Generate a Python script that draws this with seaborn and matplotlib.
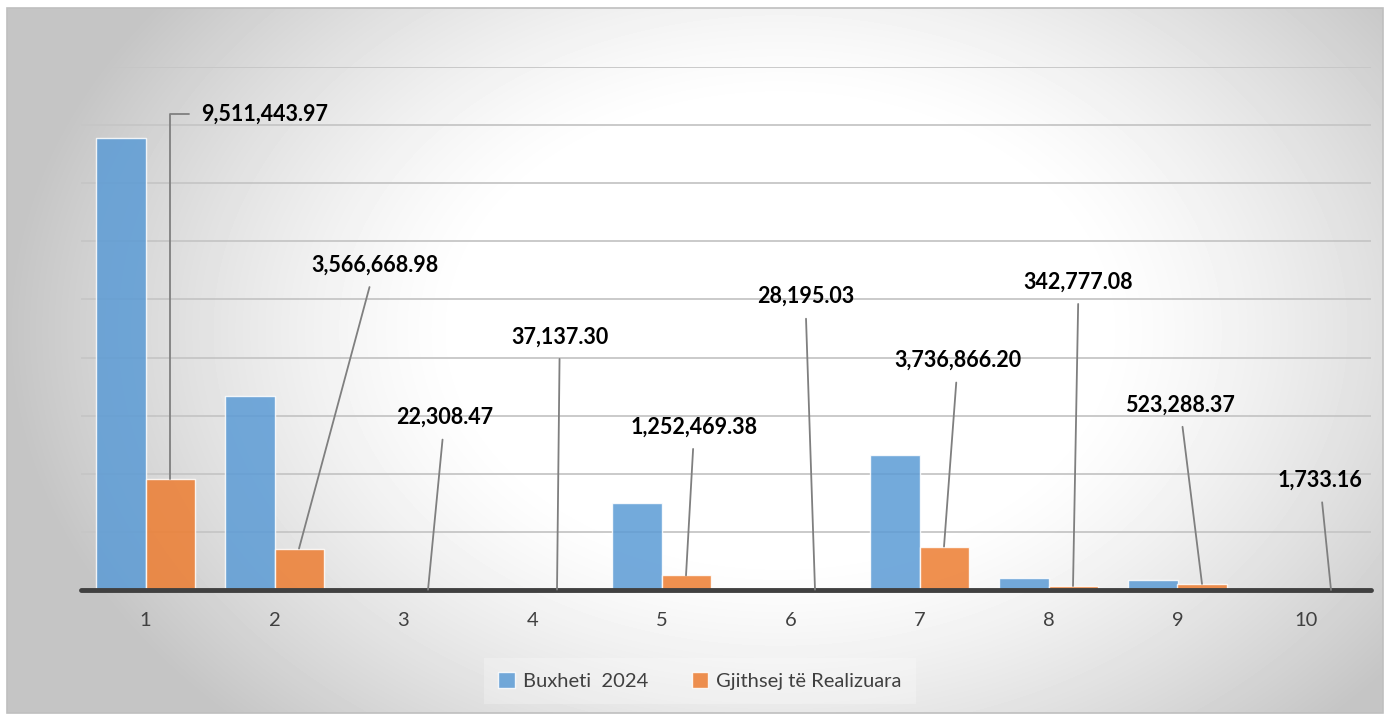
import numpy as np
import pandas as pd
import matplotlib
matplotlib.use("Agg")
import matplotlib.pyplot as plt
from matplotlib.patches import Rectangle
import seaborn as sns

# Data
categories = ["1", "2", "3", "4", "5", "6", "7", "8", "9", "10"]
buxheti_2024 = [38850000, 16660000, 40000, 150000, 7500000, 120000, 11640000, 1050000, 850000, 2000]
realizuara = [9511443.97, 3566668.98, 22308.47, 37137.30, 1252469.38,
              28195.03, 3736866.20, 342777.08, 523288.37, 1733.16]
series_names = ["Buxheti  2024", "Gjithsej të Realizuara"]

# label offsets (points) relative to top of orange bar
label_offsets = [(68, 263), (55, 204), (12, 124), (2, 182), (6, 107),
                 (-7, 211), (10, 134), (4, 219), (-16, 129), (-8, 79)]

df = pd.DataFrame({
    "cat": categories * 2,
    "value": buxheti_2024 + realizuara,
    "series": [series_names[0]] * len(categories) + [series_names[1]] * len(categories),
})

sns.set_theme(style="white")
plt.rcParams["font.family"] = ["Lato", "DejaVu Sans"]

W, H = 1392, 715
fig = plt.figure(figsize=(W / 100, H / 100), dpi=100)
fig.patch.set_facecolor("white")

# radial gradient background
bg = fig.add_axes([0, 0, 1, 1], zorder=-5)
xx, yy = np.meshgrid(np.arange(W), np.arange(H))
r = np.sqrt(((xx - 780) / 700.0) ** 2 + ((yy - 330) / 500.0) ** 2)
t = np.clip((r - 0.45) / 0.65, 0, 1) ** 1.3
shade = (255 - 58 * t) / 255.0
bg.imshow(shade, cmap="gray", vmin=0, vmax=1, extent=(0, W, H, 0), aspect="auto",
          interpolation="bilinear")
bg.add_patch(Rectangle((0, 0), W, H, facecolor="white", edgecolor="none", zorder=0))
bg.images[0].set_zorder(1)
bg.images[0].set_clip_path(Rectangle((7, 8), 1376, 705, transform=bg.transData))
bg.add_patch(Rectangle((7, 8), 1376, 705, facecolor="none", edgecolor="#BFBFBF", lw=1.2, zorder=2))
bg.set_xlim(0, W)
bg.set_ylim(H, 0)
bg.axis("off")

ax = fig.add_axes([81 / W, 1 - 590 / H, 1290 / W, 523 / H])
ax.patch.set_alpha(0)

sns.barplot(data=df, x="cat", y="value", hue="series", order=categories,
            palette=["#5B9BD5", "#ED7D31"], saturation=1, width=0.76, alpha=0.85,
            edgecolor="white", linewidth=1, ax=ax, zorder=3)

ax.set_ylim(0, 45e6)
ax.set_xlim(-0.5, len(categories) - 0.5)
ax.set_yticks(np.arange(0, 45e6 + 1, 5e6))
ax.yaxis.grid(True, color="#C6C6C6", lw=1.3)
ax.set_axisbelow(True)
ax.set_yticklabels([])
ax.tick_params(axis="y", length=0)
ax.tick_params(axis="x", length=0, pad=16, labelsize=14.5, labelcolor="#404040")
ax.set_xlabel("")
ax.set_ylabel("")
for s in ax.spines.values():
    s.set_visible(False)
ax.axhline(0, color="#404040", lw=3.5, zorder=5, clip_on=False)

# data labels with leader lines
for i, v in enumerate(realizuara):
    dx, dy = label_offsets[i]
    conn = "angle,angleA=0,angleB=90,rad=0" if i == 0 else "arc3"
    ax.annotate(f"{v:,.2f}", xy=(i + 0.19, v), xytext=(dx, dy), textcoords="offset points",
                ha="center", va="center", fontsize=15.5, fontweight="bold", color="black",
                arrowprops=dict(arrowstyle="-", color="#7F7F7F", lw=1.3,
                                connectionstyle=conn, shrinkA=6, shrinkB=0),
                zorder=6)

leg = ax.legend(loc="center", bbox_to_anchor=(0.503, 1 - 681 / H), bbox_transform=fig.transFigure,
                ncol=2, frameon=True, fontsize=14.5, handlelength=0.8, handleheight=0.8,
                handletextpad=0.4, columnspacing=2.2, borderpad=0.7)
leg.get_frame().set_facecolor("white")
leg.get_frame().set_alpha(0.25)
leg.get_frame().set_edgecolor("none")
leg.get_frame().set_boxstyle("square", pad=0)
for txt in leg.get_texts():
    txt.set_color("#404040")

fig.savefig("out.png", dpi=100)
